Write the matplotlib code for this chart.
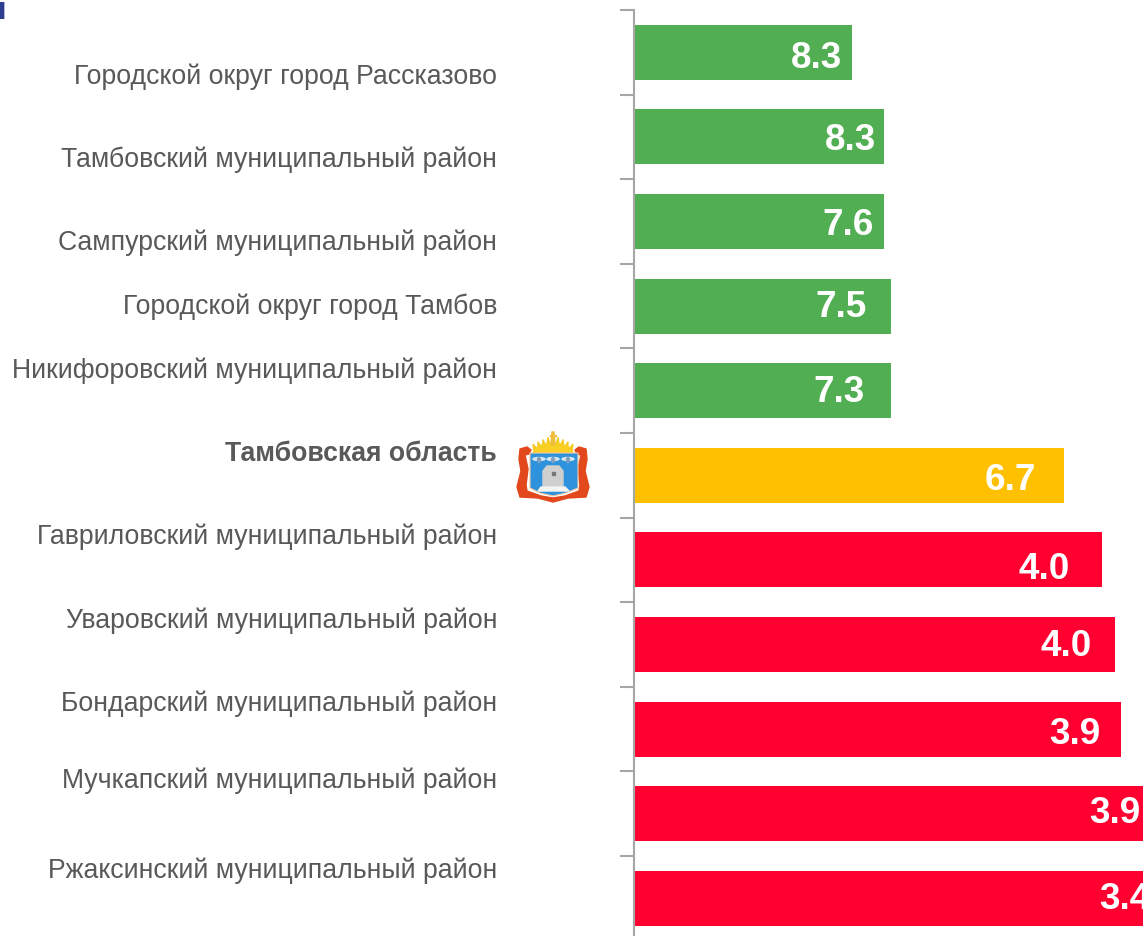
import matplotlib
matplotlib.use("Agg")
import matplotlib.pyplot as plt
from matplotlib.patches import Polygon, Rectangle, Ellipse

# Data
districts = ["Городской округ город Рассказово", "Тамбовский муниципальный район",
             "Сампурский муниципальный район", "Городской округ город Тамбов",
             "Никифоровский муниципальный район", "Тамбовская область",
             "Гавриловский муниципальный район", "Уваровский муниципальный район",
             "Бондарский муниципальный район", "Мучкапский муниципальный район",
             "Ржаксинский муниципальный район"]
shown_values = ["8.3", "8.3", "7.6", "7.5", "7.3", "6.7", "4.0", "4.0", "3.9", "3.9", "3.4"]
# the bars in the original do not follow the printed numbers, so lengths are separate
bar_lengths = [218, 250, 250, 257, 257, 430, 468, 481, 487, 532, 542]
bar_colors = ["#52AE52"] * 5 + ["#FFC000"] + ["#FF0030"] * 5

# Layout, in pixels
W, H = 1143, 937
label_gaps = [10, 8, 10, 24, 26, 28, 32, 23, 21, 26, 26]
label_dy = [5.7, 2.8, 3.2, 0.6, 1, 3.9, 8.3, 1.2, 4.1, -1, 0.4]
name_y = [77, 160, 243, 307, 371, 454, 537, 621, 704, 781, 871]
step = 84.6

plt.rcParams["font.family"] = ["Liberation Sans", "DejaVu Sans"]
fig = plt.figure(figsize=(W / 100, H / 100), dpi=100)

# bar axes: x in pixels from the spine, runs off the right and bottom of the figure
ax = fig.add_axes([634 / W, 1 - (11 + step * 11) / H, (W - 634) / W, step * 11 / H])
pos = list(range(len(districts)))
ax.barh(pos, bar_lengths, height=0.65, color=bar_colors)
ax.set_xlim(0, W - 634)
ax.set_ylim(10.5, -0.5)
ax.set_xticks([])
ax.set_yticks([p - 0.5 for p in pos] + [10.5])
ax.set_yticklabels([])
ax.tick_params(axis="y", length=10, width=1.5, color="#A6A6A6")
for s in ["top", "right", "bottom"]:
    ax.spines[s].set_visible(False)
ax.spines["left"].set_color("#A6A6A6")
ax.spines["left"].set_linewidth(1.5)

for p, val, length, gap, dy in zip(pos, shown_values, bar_lengths, label_gaps, label_dy):
    ax.text(length - gap, p + dy / step, val, color="white", fontsize=26.6, fontweight="bold",
            ha="right", va="center", clip_on=False)

for name, py in zip(districts, name_y):
    bold = name == "Тамбовская область"
    fig.text(497 / W, 1 - py / H, name, ha="right", va="center", fontsize=19.15,
             color="#595959", fontweight="bold" if bold else "normal")

# cut off end of the slide title
fig.text(6 / W, 1 - 11 / H, "я", ha="right", va="center", fontsize=23,
         fontweight="bold", color="#2F3F8F")

# regional emblem, overlay axes in pixel coordinates
em = fig.add_axes([0, 0, 1, 1], facecolor="none")
em.set_xlim(0, W)
em.set_ylim(H, 0)
em.axis("off")
cx = 553
for dx in [-20, -15, -10, -5, 5, 10, 15, 20]:
    em.add_patch(Polygon([(cx + dx * 1.0, 456 - (20 - abs(dx) * 0.45)), (cx + dx * 0.75 - 3.5, 456),
                          (cx + dx * 0.75 + 3.5, 456)], color="#F7C81E"))
em.add_patch(Ellipse((cx, 455), 40, 22, color="#F7D023"))
em.add_patch(Polygon([(cx - 1, 433), (cx + 1, 433), (cx + 2, 446), (cx - 2, 446)], color="#EDBE3C"))
em.add_patch(Rectangle((cx - 3, 435.5), 6, 1.5, color="#EDBE3C"))
# red frame: two side bands joined at the bottom
em.add_patch(Polygon([(520, 450), (527, 448), (531, 451), (529, 455), (525, 456), (528, 470), (526, 486),
                      (527, 492), (541, 497), (553, 499), (565, 497), (579, 492), (580, 486), (578, 470),
                      (581, 456), (577, 455), (575, 451), (579, 448), (586, 450), (587, 460), (585, 472),
                      (589, 488), (586, 498), (568, 499), (553, 503), (538, 499), (520, 498), (517, 488),
                      (521, 472), (519, 460)], color="#E2481C"))
em.add_patch(Polygon([(530, 454), (578, 454), (578, 489), (566, 494), (553, 497), (540, 494), (530, 489)],
                     color="#2E93DC", ec="#F4C9A0", lw=0.8))
for bx in [539, 553, 568]:
    em.add_patch(Ellipse((bx, 460), 12, 3, color="#D8E6F0"))
    em.add_patch(Ellipse((bx, 461), 3, 5, color="#7F9FBF"))
em.add_patch(Polygon([(543, 488), (543, 472), (547, 467), (559, 467), (563, 472), (563, 488)], color="#CFCFCF"))
em.add_patch(Polygon([(538, 492), (541, 488), (565, 488), (569, 492)], color="#F4F4F4"))
em.add_patch(Rectangle((552, 473), 2.5, 2.5, color="#777777"))

fig.savefig("out.png", dpi=100)
